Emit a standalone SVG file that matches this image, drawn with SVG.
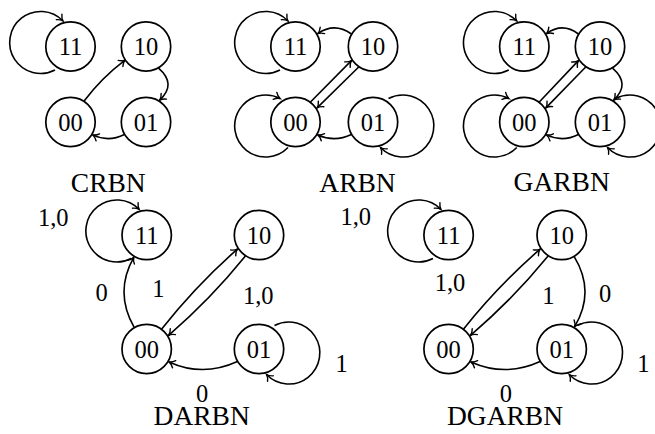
<svg xmlns="http://www.w3.org/2000/svg" width="655" height="434" viewBox="0 0 655 434">
<style>
.n circle{fill:#fff;stroke:#000;stroke-width:1.7}
.n text,.lbl,.ttl{font-family:"Liberation Serif","Times New Roman",serif;fill:#000;text-anchor:middle}
.n text{font-size:24.5px}
.lbl{font-size:24.5px}
.ttl{font-size:27.5px}
#connectors path{fill:none;stroke:#000;stroke-width:1.6;marker-end:url(#arr)}
</style>
<defs>
<marker id="arr" viewBox="-7 -5 9 10" markerWidth="9" markerHeight="10" refX="0" refY="0" orient="auto" markerUnits="userSpaceOnUse">
<path d="M -5.6,-3.9 C -3.6,-1.4 -1.2,-0.35 0,0 C -1.2,0.35 -3.6,1.4 -5.6,3.9" fill="none" stroke="#000" stroke-width="1.4" stroke-linecap="round"/>
</marker>
</defs>
<rect width="655" height="434" fill="#fff"/>
<g id="connectors">
<!-- CRBN -->
<path d="M 55,70 A 31 31 0 1 1 63,21"/>
<path d="M 84.1,101 Q 101.7,77.7 125,60.1"/>
<path d="M 158.5,68.1 Q 177,84 159.7,100.1"/>
<path d="M 124.4,134.5 Q 108.3,142.5 92.8,134.9"/>
<!-- ARBN -->
<path d="M 280,70 A 31 31 0 1 1 288,21"/>
<path d="M 288,147.5 A 31 31 0 1 1 280,98.5"/>
<path d="M 388.5,98.5 A 31 31 0 1 1 380.5,147.5"/>
<path d="M 351.4,34 Q 334.6,22 317.8,33.6"/>
<path d="M 310.5,102 L 351.4,60.6"/>
<path d="M 358.7,67 L 317.1,107.9"/>
<path d="M 351.4,134.5 Q 334.6,142.5 317.8,134.9"/>
<!-- GARBN -->
<path d="M 508.8,70 A 31 31 0 1 1 516.8,21"/>
<path d="M 516.8,147.5 A 31 31 0 1 1 508.8,98.5"/>
<path d="M 615.5,98.5 A 31 31 0 1 1 607.5,147.5"/>
<path d="M 578.4,34 Q 562.5,22 546.6,33.6"/>
<path d="M 539.3,102 L 578.4,60.6"/>
<path d="M 585.7,67 L 545.9,107.9"/>
<path d="M 612.5,68.1 Q 631,84 613.7,100.1"/>
<path d="M 578.4,134.5 Q 562.5,142.5 546.6,134.9"/>
<!-- DARBN -->
<path d="M 131.2,258.5 A 31 31 0 1 1 139.2,209.5"/>
<path d="M 134.2,327.4 Q 114,292 133.8,257.3"/>
<path d="M 161.7,329 Q 196.1,285.5 237.4,249.1"/>
<path d="M 245.4,256 Q 210.5,299.2 168.6,335.3"/>
<path d="M 237.4,361.5 Q 203,377.3 169,361.9"/>
<path d="M 274.5,325.5 A 31 31 0 1 1 266.5,374.5"/>
<!-- DGARBN -->
<path d="M 433,258.5 A 31 31 0 1 1 441,209.5"/>
<path d="M 463.6,329 Q 498.4,285.5 540.1,249.1"/>
<path d="M 548.1,256 Q 512.8,299.2 470.5,335.3"/>
<path d="M 574.2,256.6 Q 595.6,291.7 574.6,326.7"/>
<path d="M 540.1,361.5 Q 505.5,377.3 470.9,361.9"/>
<path d="M 577.2,325.5 A 31 31 0 1 1 569.2,374.5"/>
</g>
<g id="crbn-11" class="n"><circle cx="70.5" cy="46.5" r="24.7"/><text x="70.5" y="55">11</text></g>
<g id="crbn-10" class="n"><circle cx="146" cy="46.5" r="24.7"/><text x="146" y="55">10</text></g>
<g id="crbn-00" class="n"><circle cx="70.5" cy="122" r="24.7"/><text x="70.5" y="130.5">00</text></g>
<g id="crbn-01" class="n"><circle cx="146" cy="122" r="24.7"/><text x="146" y="130.5">01</text></g>
<g id="arbn-11" class="n"><circle cx="295.5" cy="46.5" r="24.7"/><text x="295.5" y="55">11</text></g>
<g id="arbn-10" class="n"><circle cx="373" cy="46.5" r="24.7"/><text x="373" y="55">10</text></g>
<g id="arbn-00" class="n"><circle cx="295.5" cy="122" r="24.7"/><text x="295.5" y="130.5">00</text></g>
<g id="arbn-01" class="n"><circle cx="373" cy="122" r="24.7"/><text x="373" y="130.5">01</text></g>
<g id="garbn-11" class="n"><circle cx="524.3" cy="46.5" r="24.7"/><text x="524.3" y="55">11</text></g>
<g id="garbn-10" class="n"><circle cx="600" cy="46.5" r="24.7"/><text x="600" y="55">10</text></g>
<g id="garbn-00" class="n"><circle cx="524.3" cy="122" r="24.7"/><text x="524.3" y="130.5">00</text></g>
<g id="garbn-01" class="n"><circle cx="600" cy="122" r="24.7"/><text x="600" y="130.5">01</text></g>
<g id="darbn-11" class="n"><circle cx="146.7" cy="235" r="24.7"/><text x="146.7" y="243.5">11</text></g>
<g id="darbn-10" class="n"><circle cx="259" cy="235" r="24.7"/><text x="259" y="243.5">10</text></g>
<g id="darbn-00" class="n"><circle cx="146.7" cy="349" r="24.7"/><text x="146.7" y="357.5">00</text></g>
<g id="darbn-01" class="n"><circle cx="259" cy="349" r="24.7"/><text x="259" y="357.5">01</text></g>
<g id="dgarbn-11" class="n"><circle cx="448.6" cy="235" r="24.7"/><text x="448.6" y="243.5">11</text></g>
<g id="dgarbn-10" class="n"><circle cx="561.7" cy="235" r="24.7"/><text x="561.7" y="243.5">10</text></g>
<g id="dgarbn-00" class="n"><circle cx="448.6" cy="349" r="24.7"/><text x="448.6" y="357.5">00</text></g>
<g id="dgarbn-01" class="n"><circle cx="561.7" cy="349" r="24.7"/><text x="561.7" y="357.5">01</text></g>
<g id="labels">
<text class="lbl" x="53.3" y="226">1,0</text>
<text class="lbl" x="101.7" y="301">0</text>
<text class="lbl" x="158.3" y="297">1</text>
<text class="lbl" x="258.3" y="304">1,0</text>
<text class="lbl" x="341.7" y="372">1</text>
<text class="lbl" x="202" y="402">0</text>
<text class="lbl" x="355.8" y="225">1,0</text>
<text class="lbl" x="450" y="291">1,0</text>
<text class="lbl" x="548.3" y="303.5">1</text>
<text class="lbl" x="605" y="301.5">0</text>
<text class="lbl" x="643.3" y="372">1</text>
<text class="lbl" x="505.8" y="402">0</text>
<text class="ttl" x="108.3" y="191.5">CRBN</text>
<text class="ttl" x="357.5" y="191.5">ARBN</text>
<text class="ttl" x="561.7" y="190.5">GARBN</text>
<text class="ttl" x="201.7" y="425">DARBN</text>
<text class="ttl" x="505" y="425">DGARBN</text>
</g>
</svg>
